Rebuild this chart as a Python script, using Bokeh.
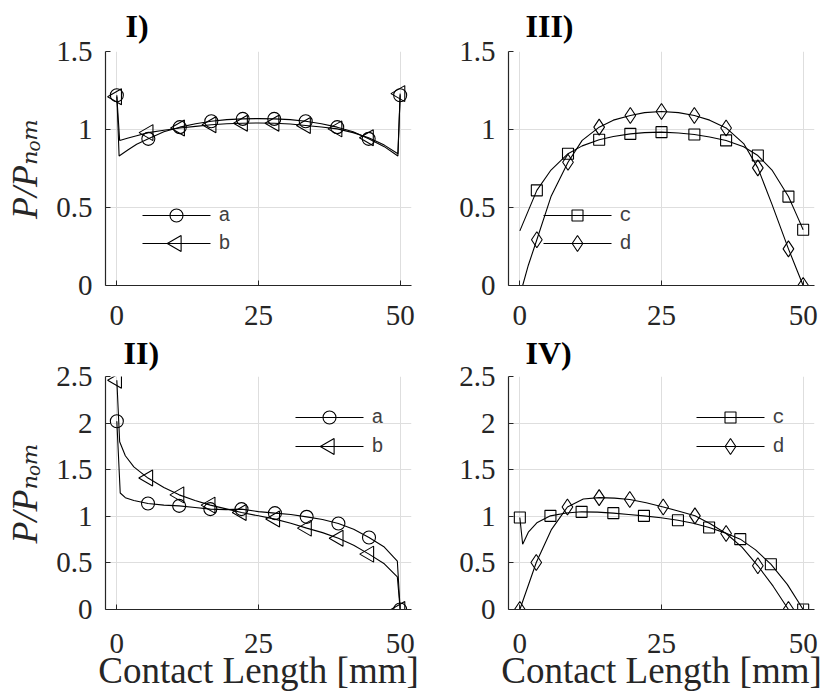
import math

from bokeh.embed import file_html
from bokeh.layouts import column, row
from bokeh.models import FixedTicker, Label, Range1d, Title
from bokeh.plotting import figure
from bokeh.resources import INLINE

# ---------------------------------------------------------------- data
x_ticks = [0, 25, 50]
x_tick_labels = ["0", "25", "50"]
y_ticks_top = [0, 0.5, 1, 1.5]
y_tick_labels_top = ["0", "0.5", "1", "1.5"]
y_ticks_bot = [0, 0.5, 1, 1.5, 2, 2.5]
y_tick_labels_bot = ["0", "0.5", "1", "1.5", "2", "2.5"]

# Panel I
I_a_x = [0, 0.4, 2, 3.5, 5.56, 8.3, 11.11, 13.9, 16.67, 19.4, 22.22, 25, 27.78,
         30.6, 33.33, 36.1, 38.89, 41.7, 44.44, 47.2, 49.6, 50]
I_a_y = [1.22, 0.83, 0.87, 0.905, 0.94, 0.985, 1.015, 1.037, 1.053, 1.063, 1.068,
         1.07, 1.068, 1.063, 1.053, 1.037, 1.015, 0.985, 0.94, 0.89, 0.83, 1.22]
I_a_marks = [0, 4, 6, 8, 10, 12, 14, 16, 18, 21]
I_b_x = [0, 0.5, 2, 3.5, 5.56, 8.3, 11.11, 13.9, 16.67, 19.4, 22.22, 25, 27.78,
         30.6, 33.33, 36.1, 38.89, 41.7, 44.44, 47.2, 49.6, 50]
I_b_y = [1.21, 0.93, 0.945, 0.96, 0.98, 0.995, 1.01, 1.02, 1.03, 1.037, 1.04,
         1.042, 1.04, 1.035, 1.026, 1.016, 1.004, 0.98, 0.947, 0.90, 0.845, 1.23]
I_b_marks = [0, 4, 6, 8, 10, 12, 14, 16, 18, 21]

# Panel II
II_a_x = [0, 0.6, 1.5, 3, 5.5, 8.3, 11, 13.8, 16.5, 19.3, 22, 25, 27.9, 30.7,
          33.5, 36.3, 39.1, 41.8, 44.5, 47.2, 49.5, 50]
II_a_y = [2.02, 1.25, 1.2, 1.17, 1.137, 1.12, 1.112, 1.095, 1.077, 1.072, 1.077,
          1.05, 1.034, 1.02, 0.994, 0.965, 0.923, 0.86, 0.773, 0.67, 0.52, 0]
II_a_marks = [0, 4, 6, 8, 10, 12, 14, 16, 18, 21]
II_b_x = [0, 0.5, 1.5, 3, 5.5, 8.3, 11, 13.8, 16.5, 19.3, 22, 25, 27.9, 30.7,
          33.5, 36.3, 39.1, 41.8, 44.5, 47.2, 49.5, 50]
II_b_y = [2.46, 1.8, 1.65, 1.53, 1.41, 1.31, 1.23, 1.17, 1.12, 1.08, 1.04, 1.005,
          0.97, 0.925, 0.873, 0.825, 0.765, 0.69, 0.594, 0.49, 0.35, 0]
II_b_marks = [0, 4, 6, 8, 10, 12, 14, 16, 18, 21]

# Panel III
III_c_x = [0, 1.5, 3, 5.5, 8.5, 11, 14, 16.5, 19.5, 22, 25, 28, 30.8, 33.5, 36.4,
           39.5, 42, 44.5, 47.4, 49, 50]
III_c_y = [0.35, 0.48, 0.61, 0.74, 0.845, 0.895, 0.934, 0.955, 0.972, 0.98, 0.983,
           0.978, 0.968, 0.952, 0.93, 0.89, 0.833, 0.74, 0.57, 0.44, 0.357]
III_c_marks = [2, 4, 6, 8, 10, 12, 14, 16, 18, 20]
III_d_x = [0.5, 1.5, 3, 5.5, 8.5, 11, 14, 16.5, 19.5, 22, 25, 28, 30.8, 33.5, 36.4,
           39.5, 42, 44.5, 47.4, 49, 50]
III_d_y = [0, 0.13, 0.293, 0.57, 0.79, 0.93, 1.015, 1.06, 1.09, 1.108, 1.115,
           1.108, 1.09, 1.06, 1.01, 0.91, 0.754, 0.52, 0.235, 0.09, 0]
III_d_marks = [2, 4, 6, 8, 10, 12, 14, 16, 18, 20]

# Panel IV
IV_c_x = [0, 0.5, 1.5, 3, 5.4, 8.2, 10.9, 13.7, 16.5, 19.2, 21.9, 24.9, 27.9,
          30.6, 33.4, 36.1, 38.9, 41.6, 44.3, 47.2, 50]
IV_c_y = [0.987, 0.70, 0.83, 0.93, 1.005, 1.035, 1.048, 1.045, 1.034, 1.02, 1.005,
          0.985, 0.958, 0.925, 0.88, 0.825, 0.755, 0.64, 0.486, 0.27, 0]
IV_c_marks = [0, 4, 6, 8, 10, 12, 14, 16, 18, 20]
IV_d_x = [0, 1.5, 2.9, 5.6, 8.4, 11.2, 14, 16.7, 19.4, 22.3, 25.3, 28.1, 30.9,
          33.6, 36.4, 39.2, 42, 44.7, 47.4]
IV_d_y = [0, 0.26, 0.504, 0.86, 1.10, 1.185, 1.20, 1.195, 1.18, 1.145, 1.10,
          1.055, 1.005, 0.92, 0.815, 0.67, 0.469, 0.25, 0]
IV_d_marks = [0, 2, 4, 6, 8, 10, 12, 14, 16, 18]

# ---------------------------------------------------------------- styling
SERIF = "Liberation Serif"
SERIF_STACK = "Liberation Serif, DejaVu Serif"
MONO = "Liberation Mono"
INK = "#262626"
GRID = "#dedede"
X_RANGE = (-2, 52)
FRAME_W = 306
Y_LABEL = "P/P\u2099\u2092\u2098"
X_LABEL = "Contact Length [mm]"

MARKERS = {
    "a": dict(marker="circle", size=13, angle=0.0),
    "b": dict(marker="triangle", size=16, angle=math.pi / 2),
    "c": dict(marker="square", size=11, angle=0.0),
    "d": dict(marker="diamond", size=16, angle=0.0),
}


def make_panel(frame_h, left, top, bottom, right, y_end, y_ticks, y_labels,
               x_standoff):
    p = figure(frame_width=FRAME_W, frame_height=frame_h,
               min_border_left=left, min_border_right=right,
               min_border_top=top, min_border_bottom=bottom,
               x_range=Range1d(*X_RANGE), y_range=Range1d(0, y_end),
               output_backend="svg", toolbar_location=None)
    p.outline_line_color = None
    p.background_fill_color = "white"
    p.border_fill_color = "white"

    for ax, ticks, labels in ((p.xaxis[0], x_ticks, x_tick_labels),
                              (p.yaxis[0], y_ticks, y_labels)):
        ax.ticker = FixedTicker(ticks=ticks)
        ax.major_label_overrides = {t: s for t, s in zip(ticks, labels)}
        ax.axis_line_color = INK
        ax.axis_line_width = 1.2
        ax.major_tick_line_color = INK
        ax.major_tick_in = 5
        ax.major_tick_out = 0
        ax.minor_tick_line_color = None
        ax.major_label_text_font = SERIF
        ax.major_label_text_font_size = "29px"
        ax.major_label_text_color = INK
        ax.axis_label_text_font = SERIF_STACK
        ax.axis_label_text_color = INK
    p.xaxis.major_label_standoff = x_standoff
    p.yaxis.major_label_standoff = 13

    p.xgrid.ticker = FixedTicker(ticks=x_ticks)
    p.ygrid.ticker = FixedTicker(ticks=y_ticks)
    p.grid.grid_line_color = GRID
    p.grid.grid_line_width = 1
    return p


def add_series(p, xs, ys, marks, key):
    p.line(xs, ys, line_color="black", line_width=1.1)
    m = MARKERS[key]
    p.scatter([xs[i] for i in marks], [ys[i] for i in marks],
              marker=m["marker"], size=m["size"], angle=m["angle"],
              fill_color=None, line_color="black", line_width=1.1)


def frame_to_data(p, fx, fy):
    # fx from the frame's left edge, fy from its top edge, in pixels
    x0, x1 = p.x_range.start, p.x_range.end
    y0, y1 = p.y_range.start, p.y_range.end
    return (x0 + fx / FRAME_W * (x1 - x0),
            y1 - fy / p.frame_height * (y1 - y0))


def add_legend(p, fx, fy_list, keys):
    for fy, key in zip(fy_list, keys):
        xa, ya = frame_to_data(p, fx, fy)
        xb, _ = frame_to_data(p, fx + 68, fy)
        xm, _ = frame_to_data(p, fx + 34, fy)
        p.line([xa, xb], [ya, ya], line_color="black", line_width=1.1)
        m = MARKERS[key]
        p.scatter([xm], [ya], marker=m["marker"], size=m["size"], angle=m["angle"],
                  fill_color=None, line_color="black", line_width=1.1)
        p.add_layout(Label(x=fx + 76, y=p.frame_height - fy, x_units="screen",
                           y_units="screen", text=key, text_font=MONO,
                           text_font_size="20px", text_color="#404040",
                           text_baseline="middle", text_align="left"))


def add_title(p, text, dx, standoff):
    p.title = Title(text=text, align="left", offset=dx, standoff=standoff,
                    vertical_align="top", text_font=SERIF,
                    text_font_style="bold", text_font_size="32px",
                    text_color="black")


def add_ylabel(p):
    p.yaxis.axis_label = Y_LABEL
    p.yaxis.axis_label_text_font_style = "italic"
    p.yaxis.axis_label_text_font_size = "36px"
    p.yaxis.axis_label_standoff = 8


def add_xlabel(p):
    p.xaxis.axis_label = X_LABEL
    p.xaxis.axis_label_text_font_style = "normal"
    p.xaxis.axis_label_text_font_size = "37px"
    p.xaxis.axis_label_standoff = -6


# ---------------------------------------------------------------- panels
p1 = make_panel(234, 105, 51, 45, 9, 1.5, y_ticks_top, y_tick_labels_top, 20)
add_series(p1, I_a_x, I_a_y, I_a_marks, "a")
add_series(p1, I_b_x, I_b_y, I_b_marks, "b")
add_legend(p1, 37, [164, 192], ["a", "b"])
add_title(p1, "I)", 20, 11)
add_ylabel(p1)

p3 = make_panel(234, 88, 51, 45, 9, 1.5, y_ticks_top, y_tick_labels_top, 20)
add_series(p3, III_c_x, III_c_y, III_c_marks, "c")
add_series(p3, III_d_x, III_d_y, III_d_marks, "d")
add_legend(p3, 35, [164, 192], ["c", "d"])
add_title(p3, "III)", 17, 11)

p2 = make_panel(233, 105, 46, 84, 9, 2.5, y_ticks_bot, y_tick_labels_bot, 24)
add_series(p2, II_a_x, II_a_y, II_a_marks, "a")
add_series(p2, II_b_x, II_b_y, II_b_marks, "b")
add_legend(p2, 190, [41, 70], ["a", "b"])
add_title(p2, "II)", 18, 7)
add_ylabel(p2)
add_xlabel(p2)

p4 = make_panel(233, 88, 46, 84, 9, 2.5, y_ticks_bot, y_tick_labels_bot, 24)
add_series(p4, IV_c_x, IV_c_y, IV_c_marks, "c")
add_series(p4, IV_d_x, IV_d_y, IV_d_marks, "d")
add_legend(p4, 188, [41, 70], ["c", "d"])
add_title(p4, "IV)", 17, 7)
add_xlabel(p4)

layout = column(row(p1, p3), row(p2, p4))

open("out.html", "w").write(file_html(layout, INLINE))
